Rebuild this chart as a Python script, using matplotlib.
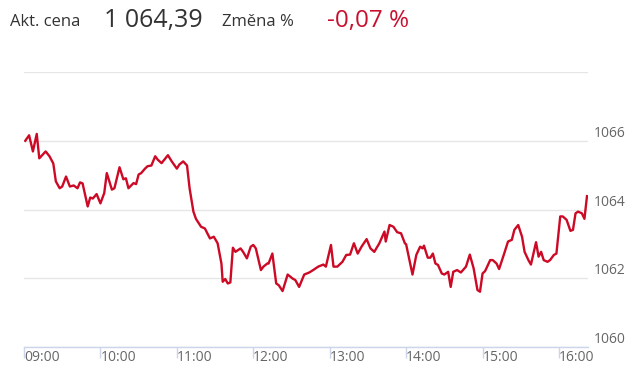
import matplotlib
matplotlib.use("Agg")
import matplotlib.pyplot as plt
import matplotlib.dates as mdates
import pandas as pd

plt.rcParams['font.family'] = ['Open Sans', 'DejaVu Sans']

# intraday quotes
times = [
    "09:01", "09:04", "09:07", "09:10", "09:12", "09:17", "09:20", "09:23", "09:25", "09:28",
    "09:30", "09:33", "09:36", "09:39", "09:42", "09:44", "09:46", "09:50", "09:52", "09:54",
    "09:57", "10:00", "10:03", "10:05", "10:09", "10:11", "10:15", "10:18", "10:20", "10:22",
    "10:26", "10:28", "10:30", "10:32", "10:35", "10:37", "10:40", "10:43", "10:45", "10:48",
    "10:53", "10:56", "11:00", "11:02", "11:05", "11:08", "11:10", "11:13", "11:15", "11:19",
    "11:22", "11:26", "11:29", "11:32", "11:35", "11:36", "11:38", "11:40", "11:42", "11:44",
    "11:46", "11:50", "11:52", "11:55", "11:58", "12:00", "12:02", "12:06", "12:08", "12:11",
    "12:12", "12:15", "12:18", "12:20", "12:23", "12:27", "12:31", "12:33", "12:36", "12:40",
    "12:44", "12:47", "12:51", "12:55", "12:57", "13:01", "13:03", "13:06", "13:10", "13:13",
    "13:16", "13:19", "13:22", "13:25", "13:29", "13:32", "13:35", "13:39", "13:43", "13:44",
    "13:47", "13:50", "13:53", "13:56", "13:59", "14:00", "14:05", "14:08", "14:11", "14:13",
    "14:14", "14:17", "14:19", "14:21", "14:23", "14:25", "14:28", "14:30", "14:33", "14:35",
    "14:37", "14:40", "14:43", "14:47", "14:50", "14:53", "14:56", "14:58", "15:00", "15:02",
    "15:06", "15:08", "15:11", "15:13", "15:17", "15:20", "15:23", "15:25", "15:28", "15:31",
    "15:33", "15:36", "15:38", "15:42", "15:44", "15:46", "15:48", "15:51", "15:53", "15:56",
    "15:58", "16:01", "16:03", "16:06", "16:09", "16:11", "16:13", "16:15", "16:18", "16:20",
    "16:22",
]
prices = [
    1066.00, 1066.16, 1065.69, 1066.20, 1065.49, 1065.69, 1065.55, 1065.34, 1064.82, 1064.62,
    1064.67, 1064.96, 1064.67, 1064.70, 1064.62, 1064.79, 1064.76, 1064.09, 1064.35, 1064.32,
    1064.45, 1064.18, 1064.48, 1065.06, 1064.58, 1064.62, 1065.23, 1064.88, 1064.91, 1064.62,
    1064.77, 1064.74, 1065.02, 1065.06, 1065.19, 1065.26, 1065.28, 1065.55, 1065.45, 1065.35,
    1065.58, 1065.40, 1065.19, 1065.31, 1065.40, 1065.28, 1064.62, 1063.94, 1063.73, 1063.50,
    1063.45, 1063.16, 1063.21, 1063.02, 1062.43, 1061.90, 1061.98, 1061.85, 1061.88, 1062.89,
    1062.77, 1062.87, 1062.77, 1062.58, 1062.92, 1062.97, 1062.87, 1062.24, 1062.34, 1062.43,
    1062.43, 1062.72, 1061.85, 1061.80, 1061.63, 1062.11, 1061.99, 1061.95, 1061.75, 1062.11,
    1062.17, 1062.24, 1062.34, 1062.40, 1062.34, 1062.97, 1062.34, 1062.34, 1062.48, 1062.68,
    1062.69, 1063.02, 1062.72, 1062.92, 1063.14, 1062.87, 1062.77, 1063.02, 1063.36, 1063.07,
    1063.55, 1063.50, 1063.34, 1063.31, 1063.02, 1062.99, 1062.11, 1062.68, 1062.92, 1062.87,
    1062.95, 1062.60, 1062.60, 1062.72, 1062.43, 1062.39, 1062.14, 1062.11, 1062.19, 1061.75,
    1062.19, 1062.24, 1062.17, 1062.34, 1062.69, 1062.29, 1061.66, 1061.61, 1062.14, 1062.21,
    1062.53, 1062.53, 1062.43, 1062.27, 1062.72, 1063.07, 1063.12, 1063.41, 1063.55, 1063.21,
    1062.77, 1062.53, 1062.40, 1063.05, 1062.63, 1062.77, 1062.53, 1062.48, 1062.53, 1062.68,
    1062.72, 1063.80, 1063.80, 1063.70, 1063.38, 1063.41, 1063.89, 1063.94, 1063.89, 1063.73,
    1064.39,
]

day = "2024-01-02 "
x = pd.to_datetime([day + t for t in times])

hour_ticks = ["09:00", "10:00", "11:00", "12:00", "13:00", "14:00", "15:00", "16:00"]
y_ticks = [1060, 1062, 1064, 1066, 1068]
y_labels = ["1060", "1062", "1064", "1066", ""]

fig = plt.figure(figsize=(6.4, 3.81), dpi=100)
ax = fig.add_axes([0.0375, 0.089, 0.881, 0.722])

ax.plot(x, prices, color="#cc0a26", lw=1.7, solid_joinstyle="round")

ax.set_xlim(pd.Timestamp(day + "09:00"), pd.Timestamp(day + "16:22:40"))
ax.set_ylim(1060, 1068)

ax.set_xticks(pd.to_datetime([day + t for t in hour_ticks]))
ax.xaxis.set_major_formatter(mdates.DateFormatter("%H:%M"))
ax.tick_params(axis="x", length=8, width=1, color="#ccd6eb", labelsize=10,
               labelcolor="#666666", pad=-6)
for lbl in ax.get_xticklabels():
    lbl.set_ha("left")

ax.set_yticks(y_ticks)
ax.set_yticklabels(y_labels)
ax.yaxis.tick_right()
ax.tick_params(axis="y", length=0, labelsize=10, labelcolor="#666666", pad=4)
for lbl in ax.get_yticklabels():
    lbl.set_va("bottom")

ax.grid(axis="y", color="#e6e6e6", lw=1)
ax.set_axisbelow(True)
for side in ["top", "left", "right"]:
    ax.spines[side].set_visible(False)
ax.spines["bottom"].set_color("#ccd6eb")
ax.spines["bottom"].set_linewidth(1)

# header
fig.text(10 / 640, 1 - 22 / 381, "Akt. cena", fontsize=12, color="#333333", va="center")
fig.text(104 / 640, 1 - 21 / 381, "1 064,39", fontsize=18, color="#333333", va="center")
fig.text(222 / 640, 1 - 22 / 381, "Změna %", fontsize=12, color="#333333", va="center")
fig.text(327 / 640, 1 - 21 / 381, "-0,07 %", fontsize=17.5, color="#c8102e", va="center")

fig.savefig("out.png", dpi=100)
